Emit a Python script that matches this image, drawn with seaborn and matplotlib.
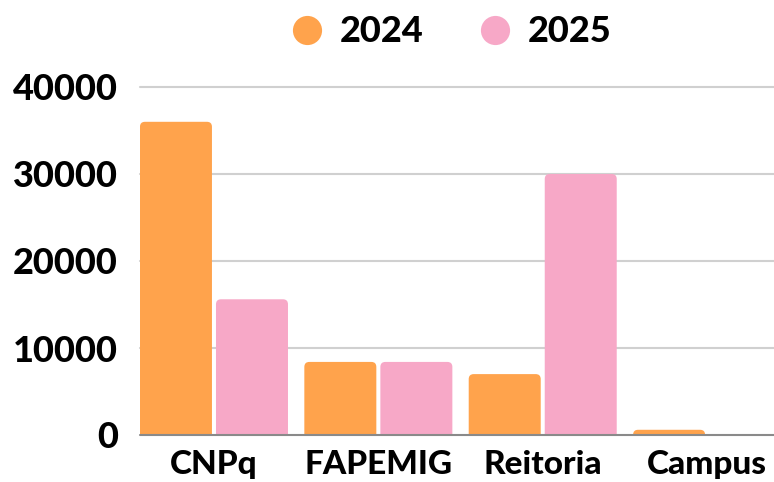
import matplotlib
matplotlib.use("Agg")
import matplotlib.pyplot as plt
import seaborn as sns
import pandas as pd
from matplotlib.patches import FancyBboxPatch
from matplotlib.lines import Line2D

categories = ["CNPq", "FAPEMIG", "Reitoria", "Campus"]
years = ["2024", "2025"]
values_2024 = [36000, 8400, 7000, 600]
values_2025 = [15600, 8400, 30000, 0]
yticks = [0, 10000, 20000, 30000, 40000]
colors = {"2024": "#FFA34C", "2025": "#F7A8C7"}

df = pd.DataFrame({
    "categoria": categories * 2,
    "ano": ["2024"] * 4 + ["2025"] * 4,
    "valor": values_2024 + values_2025,
})

sns.set_theme(style="white")
plt.rcParams["font.family"] = ["Lato", "DejaVu Sans"]
plt.rcParams["text.color"] = "black"

fig = plt.figure(figsize=(7.74, 4.82), dpi=100)
ax = fig.add_axes([140 / 774, 47 / 482, 634 / 774, 348 / 482])

sns.barplot(data=df, x="categoria", y="valor", hue="ano", order=categories,
            hue_order=years, palette=colors, width=0.925, gap=0.053,
            ax=ax, legend=False, saturation=1, linewidth=0)

ax.set_xlim(-0.45, 3.407)
ax.set_ylim(0, 40000)

# rounded top corners
px_per_x = 634 / 3.857
px_per_y = 348 / 40000
aspect = px_per_x / px_per_y
r = 5 / px_per_x
for p in list(ax.patches):
    x, w, h = p.get_x(), p.get_width(), p.get_height()
    fc = p.get_facecolor()
    p.remove()
    if h <= 0:
        continue
    fb = FancyBboxPatch((x, -r * aspect * 2), w, h + r * aspect * 2,
                        boxstyle=f"round,pad=0,rounding_size={r}",
                        mutation_aspect=aspect, facecolor=fc, edgecolor="none",
                        linewidth=0, zorder=2)
    ax.add_patch(fb)

for s in ax.spines.values():
    s.set_visible(False)
ax.set_yticks(yticks)
ax.set_yticklabels([str(v) for v in yticks])
for yv in yticks[1:]:
    ax.axhline(yv, color="#d0d0d0", linewidth=1.5, zorder=0, clip_on=False)
ax.axhline(0, color="#8a8a8a", linewidth=1.5, zorder=3, clip_on=False)

ax.tick_params(axis="y", length=0, pad=16, labelsize=26)
ax.tick_params(axis="x", length=0, pad=11, labelsize=24)
for lab in ax.get_yticklabels() + ax.get_xticklabels():
    lab.set_fontweight("black")
    lab.set_color("black")
ax.set_xlabel("")
ax.set_ylabel("")

handles = [Line2D([0], [0], marker="o", linestyle="none", markersize=21,
                  markerfacecolor=colors[y], markeredgecolor="none") for y in years]
leg = fig.legend(handles, years, loc="center", bbox_to_anchor=(452 / 774, 1 - 32 / 482),
                 ncol=2, frameon=False, handlelength=0.8, handletextpad=0.5,
                 columnspacing=1.6, prop={"size": 26, "weight": "black"})
for t in leg.get_texts():
    t.set_color("black")

fig.savefig("out.png", dpi=100)
